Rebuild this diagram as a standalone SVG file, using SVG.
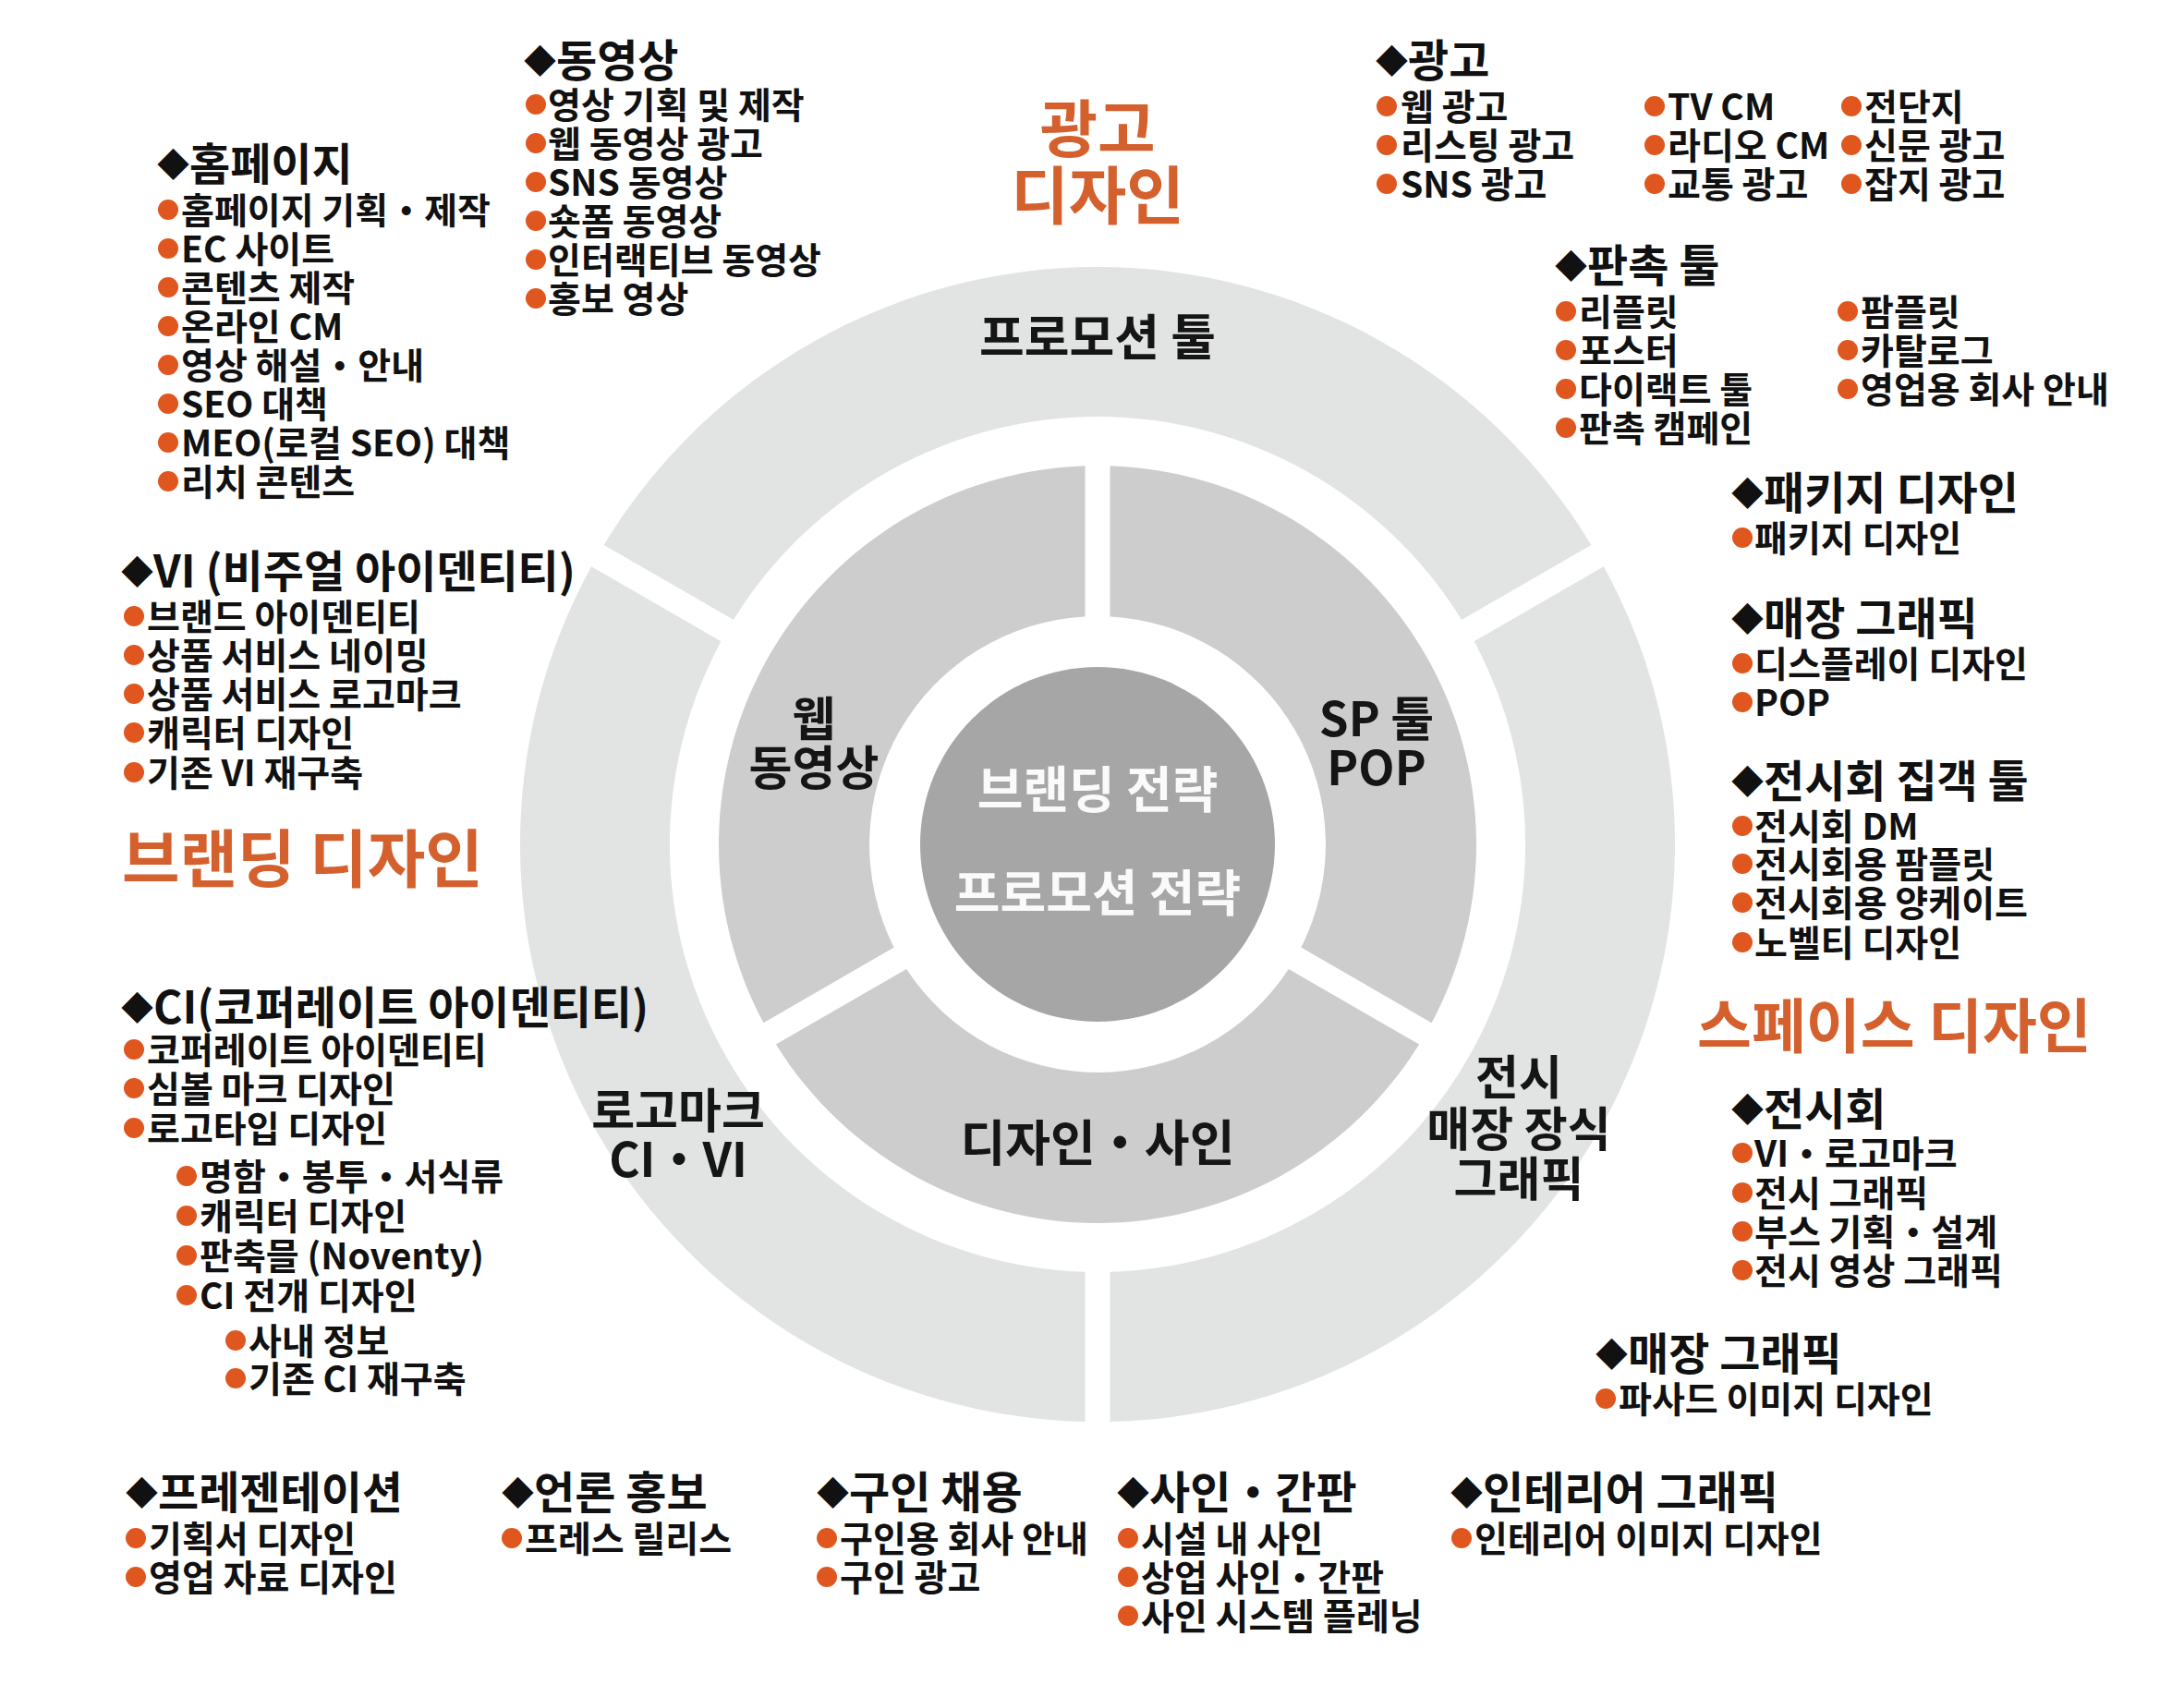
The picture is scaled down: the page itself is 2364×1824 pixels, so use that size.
<svg xmlns="http://www.w3.org/2000/svg" width="2364" height="1824" viewBox="0 0 2364 1824">
<style>
text{font-family:"Noto Sans CJK KR","Noto Sans",sans-serif;font-weight:700;fill:#111}
.h{font-size:48px}
.i{font-size:39px}
.d{font-size:35px}
.cat{font-size:68px;fill:#d4602e}
.rl{font-size:51px;fill:#151515;text-anchor:middle}
.rl2{font-size:53px;fill:#151515;text-anchor:middle}
.core{font-size:54px;fill:#fafafa;text-anchor:middle}
.b{fill:#e0561f}
.outer{fill:#e2e3e3}
.mid{fill:#cdcdcd}
.ctr{fill:#a6a6a6}
</style>
<rect width="2364" height="1824" fill="#ffffff"/>

<g id="connectors"></g>

<g id="ring-promo-tool">
<path class="outer" d="M1722.4 589.9 A625 625 0 0 0 653.6 589.9 L794 670.9 A463 463 0 0 1 1582 670.9 Z"/>
<text class="rl2" x="1188" y="385">프로모션 툴</text>
</g>
<g id="ring-exhibit">
<path class="outer" d="M1201.5 1538.9 A625 625 0 0 0 1735.9 613.3 L1595.6 694.3 A463 463 0 0 1 1201.5 1376.8 Z"/>
<text class="rl" x="1644" y="1185">전시</text>
<text class="rl" x="1644" y="1241">매장 장식</text>
<text class="rl" x="1644" y="1295">그래픽</text>
</g>
<g id="ring-logo">
<path class="outer" d="M640.1 613.3 A625 625 0 0 0 1174.5 1538.9 L1174.5 1376.8 A463 463 0 0 1 780.4 694.3 Z"/>
<text class="rl" x="734" y="1221">로고마크</text>
<text class="rl" x="734" y="1274">CI・VI</text>
</g>
<g id="ring-web">
<path class="mid" d="M1174.5 504.2 A410 410 0 0 0 826.4 1107.2 L967.7 1025.6 A247 247 0 0 1 1174.5 667.4 Z"/>
<text class="rl" x="881" y="797">웹</text>
<text class="rl" x="881" y="850">동영상</text>
</g>
<g id="ring-sp">
<path class="mid" d="M1549.6 1107.2 A410 410 0 0 0 1201.5 504.2 L1201.5 667.4 A247 247 0 0 1 1408.3 1025.6 Z"/>
<text class="rl" x="1490" y="797">SP 툴</text>
<text class="rl" x="1490" y="850">POP</text>
</g>
<g id="ring-sign">
<path class="mid" d="M839.9 1130.6 A410 410 0 0 0 1536.1 1130.6 L1394.8 1049 A247 247 0 0 1 981.2 1049 Z"/>
<text class="rl2" x="1188" y="1257">디자인・사인</text>
</g>
<g id="core">
<circle class="ctr" cx="1188" cy="914" r="192"/>
<text class="core" x="1188" y="875">브랜딩 전략</text>
<text class="core" x="1188" y="987">프로모션 전략</text>
</g>

<g id="cat-ad">
<text class="cat" x="1188" y="165" text-anchor="middle">광고</text>
<text class="cat" x="1188" y="237" text-anchor="middle">디자인</text>
</g>
<g id="cat-branding">
<text class="cat" x="132" y="955">브랜딩 디자인</text>
</g>
<g id="cat-space">
<text class="cat" x="1837" y="1134" style="font-size:64px">스페이스 디자인</text>
</g>

<g id="blk-homepage">
<text class="h" x="170" y="195"><tspan class="d" dy="-4">◆</tspan><tspan dy="4">홈페이지</tspan></text>
<circle class="b" cx="182" cy="227" r="11"/><text class="i" x="196" y="242">홈페이지 기획・제작</text>
<circle class="b" cx="182" cy="269" r="11"/><text class="i" x="196" y="284">EC 사이트</text>
<circle class="b" cx="182" cy="311" r="11"/><text class="i" x="196" y="326">콘텐츠 제작</text>
<circle class="b" cx="182" cy="353" r="11"/><text class="i" x="196" y="368">온라인 CM</text>
<circle class="b" cx="182" cy="395" r="11"/><text class="i" x="196" y="410">영상 해설・안내</text>
<circle class="b" cx="182" cy="437" r="11"/><text class="i" x="196" y="452">SEO 대책</text>
<circle class="b" cx="182" cy="479" r="11"/><text class="i" x="196" y="494">MEO(로컬 SEO) 대책</text>
<circle class="b" cx="182" cy="521" r="11"/><text class="i" x="196" y="536">리치 콘텐츠</text>
</g>

<g id="blk-video">
<text class="h" x="567" y="83"><tspan class="d" dy="-4">◆</tspan><tspan dy="4">동영상</tspan></text>
<circle class="b" cx="580" cy="113" r="11"/><text class="i" x="593" y="128">영상 기획 및 제작</text>
<circle class="b" cx="580" cy="155" r="11"/><text class="i" x="593" y="170">웹 동영상 광고</text>
<circle class="b" cx="580" cy="197" r="11"/><text class="i" x="593" y="212">SNS 동영상</text>
<circle class="b" cx="580" cy="239" r="11"/><text class="i" x="593" y="254">숏폼 동영상</text>
<circle class="b" cx="580" cy="281" r="11"/><text class="i" x="593" y="296">인터랙티브 동영상</text>
<circle class="b" cx="580" cy="323" r="11"/><text class="i" x="593" y="338">홍보 영상</text>
</g>

<g id="blk-ad">
<text class="h" x="1489" y="83"><tspan class="d" dy="-4">◆</tspan><tspan dy="4">광고</tspan></text>
<circle class="b" cx="1501" cy="115" r="11"/><text class="i" x="1516" y="130">웹 광고</text>
<circle class="b" cx="1501" cy="157" r="11"/><text class="i" x="1516" y="172">리스팅 광고</text>
<circle class="b" cx="1501" cy="199" r="11"/><text class="i" x="1516" y="214">SNS 광고</text>
<circle class="b" cx="1791" cy="115" r="11"/><text class="i" x="1805" y="130">TV CM</text>
<circle class="b" cx="1791" cy="157" r="11"/><text class="i" x="1805" y="172">라디오 CM</text>
<circle class="b" cx="1791" cy="199" r="11"/><text class="i" x="1805" y="214">교통 광고</text>
<circle class="b" cx="2004" cy="115" r="11"/><text class="i" x="2018" y="130">전단지</text>
<circle class="b" cx="2004" cy="157" r="11"/><text class="i" x="2018" y="172">신문 광고</text>
<circle class="b" cx="2004" cy="199" r="11"/><text class="i" x="2018" y="214">잡지 광고</text>
</g>

<g id="blk-promo">
<text class="h" x="1683" y="305"><tspan class="d" dy="-4">◆</tspan><tspan dy="4">판촉 툴</tspan></text>
<circle class="b" cx="1695" cy="337" r="11"/><text class="i" x="1709" y="352">리플릿</text>
<circle class="b" cx="1695" cy="379" r="11"/><text class="i" x="1709" y="394">포스터</text>
<circle class="b" cx="1695" cy="421" r="11"/><text class="i" x="1709" y="436">다이랙트 툴</text>
<circle class="b" cx="1695" cy="463" r="11"/><text class="i" x="1709" y="478">판촉 캠페인</text>
<circle class="b" cx="2000" cy="337" r="11"/><text class="i" x="2014" y="352">팜플릿</text>
<circle class="b" cx="2000" cy="379" r="11"/><text class="i" x="2014" y="394">카탈로그</text>
<circle class="b" cx="2000" cy="421" r="11"/><text class="i" x="2014" y="436">영업용 회사 안내</text>
</g>

<g id="blk-package">
<text class="h" x="1874" y="551"><tspan class="d" dy="-4">◆</tspan><tspan dy="4">패키지 디자인</tspan></text>
<circle class="b" cx="1886" cy="582" r="11"/><text class="i" x="1899" y="597">패키지 디자인</text>
</g>

<g id="blk-store">
<text class="h" x="1874" y="687"><tspan class="d" dy="-4">◆</tspan><tspan dy="4">매장 그래픽</tspan></text>
<circle class="b" cx="1886" cy="718" r="11"/><text class="i" x="1899" y="733">디스플레이 디자인</text>
<circle class="b" cx="1886" cy="760" r="11"/><text class="i" x="1899" y="775">POP</text>
</g>

<g id="blk-expo-tools">
<text class="h" x="1874" y="863"><tspan class="d" dy="-4">◆</tspan><tspan dy="4">전시회 집객 툴</tspan></text>
<circle class="b" cx="1886" cy="894" r="11"/><text class="i" x="1899" y="909">전시회 DM</text>
<circle class="b" cx="1886" cy="935" r="11"/><text class="i" x="1899" y="950">전시회용 팜플릿</text>
<circle class="b" cx="1886" cy="977" r="11"/><text class="i" x="1899" y="992">전시회용 양케이트</text>
<circle class="b" cx="1886" cy="1020" r="11"/><text class="i" x="1899" y="1035">노벨티 디자인</text>
</g>

<g id="blk-expo">
<text class="h" x="1874" y="1218"><tspan class="d" dy="-4">◆</tspan><tspan dy="4">전시회</tspan></text>
<circle class="b" cx="1886" cy="1248" r="11"/><text class="i" x="1899" y="1263">VI・로고마크</text>
<circle class="b" cx="1886" cy="1291" r="11"/><text class="i" x="1899" y="1306">전시 그래픽</text>
<circle class="b" cx="1886" cy="1333" r="11"/><text class="i" x="1899" y="1348">부스 기획・설계</text>
<circle class="b" cx="1886" cy="1375" r="11"/><text class="i" x="1899" y="1390">전시 영상 그래픽</text>
</g>

<g id="blk-store2">
<text class="h" x="1727" y="1483"><tspan class="d" dy="-4">◆</tspan><tspan dy="4">매장 그래픽</tspan></text>
<circle class="b" cx="1738" cy="1514" r="11"/><text class="i" x="1752" y="1529">파사드 이미지 디자인</text>
</g>

<g id="blk-vi">
<text class="h" x="131" y="636"><tspan class="d" dy="-4">◆</tspan><tspan dy="4">VI (비주얼 아이덴티티)</tspan></text>
<circle class="b" cx="145" cy="667" r="11"/><text class="i" x="159" y="682">브랜드 아이덴티티</text>
<circle class="b" cx="145" cy="709" r="11"/><text class="i" x="159" y="724">상품 서비스 네이밍</text>
<circle class="b" cx="145" cy="751" r="11"/><text class="i" x="159" y="766">상품 서비스 로고마크</text>
<circle class="b" cx="145" cy="793" r="11"/><text class="i" x="159" y="808">캐릭터 디자인</text>
<circle class="b" cx="145" cy="836" r="11"/><text class="i" x="159" y="851">기존 VI 재구축</text>
</g>

<g id="blk-ci">
<text class="h" x="131" y="1108"><tspan class="d" dy="-4">◆</tspan><tspan dy="4">CI(코퍼레이트 아이덴티티)</tspan></text>
<circle class="b" cx="145" cy="1136" r="11"/><text class="i" x="159" y="1151">코퍼레이트 아이덴티티</text>
<circle class="b" cx="145" cy="1178" r="11"/><text class="i" x="159" y="1193">심볼 마크 디자인</text>
<circle class="b" cx="145" cy="1221" r="11"/><text class="i" x="159" y="1236">로고타입 디자인</text>
<circle class="b" cx="202" cy="1273" r="11"/><text class="i" x="216" y="1288">명함・봉투・서식류</text>
<circle class="b" cx="202" cy="1316" r="11"/><text class="i" x="216" y="1331">캐릭터 디자인</text>
<circle class="b" cx="202" cy="1359" r="11"/><text class="i" x="216" y="1374">판축믈 (Noventy)</text>
<circle class="b" cx="202" cy="1402" r="11"/><text class="i" x="216" y="1417">CI 전개 디자인</text>
<circle class="b" cx="255" cy="1451" r="11"/><text class="i" x="269" y="1466">사내 정보</text>
<circle class="b" cx="255" cy="1492" r="11"/><text class="i" x="269" y="1507">기존 CI 재구축</text>
</g>

<g id="blk-presentation">
<text class="h" x="136" y="1633"><tspan class="d" dy="-4">◆</tspan><tspan dy="4">프레젠테이션</tspan></text>
<circle class="b" cx="147" cy="1665" r="11"/><text class="i" x="161" y="1680">기획서 디자인</text>
<circle class="b" cx="147" cy="1707" r="11"/><text class="i" x="161" y="1722">영업 자료 디자인</text>
</g>

<g id="blk-press">
<text class="h" x="543" y="1633"><tspan class="d" dy="-4">◆</tspan><tspan dy="4">언론 홍보</tspan></text>
<circle class="b" cx="554" cy="1665" r="11"/><text class="i" x="568" y="1680">프레스 릴리스</text>
</g>

<g id="blk-recruit">
<text class="h" x="884" y="1633"><tspan class="d" dy="-4">◆</tspan><tspan dy="4">구인 채용</tspan></text>
<circle class="b" cx="895" cy="1665" r="11"/><text class="i" x="909" y="1680">구인용 회사 안내</text>
<circle class="b" cx="895" cy="1707" r="11"/><text class="i" x="909" y="1722">구인 광고</text>
</g>

<g id="blk-sign">
<text class="h" x="1209" y="1633"><tspan class="d" dy="-4">◆</tspan><tspan dy="4">사인・간판</tspan></text>
<circle class="b" cx="1221" cy="1665" r="11"/><text class="i" x="1235" y="1680">시설 내 사인</text>
<circle class="b" cx="1221" cy="1707" r="11"/><text class="i" x="1235" y="1722">상업 사인・간판</text>
<circle class="b" cx="1221" cy="1749" r="11"/><text class="i" x="1235" y="1764">사인 시스템 플레닝</text>
</g>

<g id="blk-interior">
<text class="h" x="1570" y="1633"><tspan class="d" dy="-4">◆</tspan><tspan dy="4">인테리어 그래픽</tspan></text>
<circle class="b" cx="1582" cy="1665" r="11"/><text class="i" x="1596" y="1680">인테리어 이미지 디자인</text>
</g>
</svg>
